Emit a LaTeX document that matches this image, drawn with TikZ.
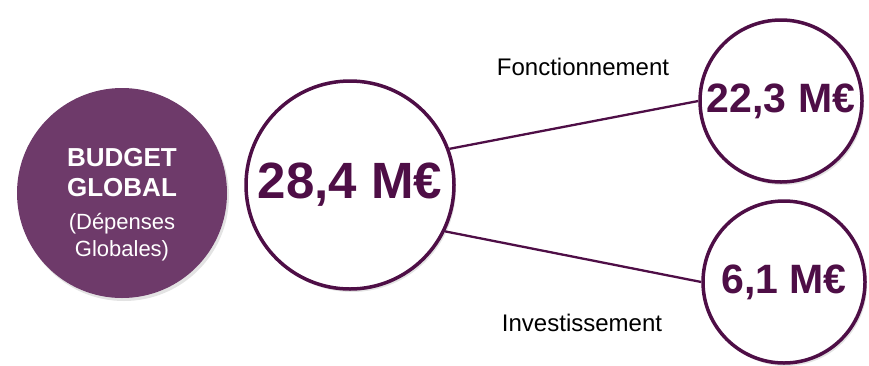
\documentclass[tikz,border=0pt]{standalone}
\usepackage{fontspec}
\setmainfont{Liberation Sans}
\usetikzlibrary{shadows}
\definecolor{plum}{RGB}{110,58,106}
\definecolor{darkplum}{RGB}{78,14,70}

\begin{document}
\begin{tikzpicture}[x=1pt,y=-1pt,
    amount/.style={circle,draw=darkplum,line width=3.5pt,fill=white,inner sep=0pt,
        text=darkplum,drop shadow={opacity=0.22,shadow xshift=2pt,shadow yshift=-3pt}},
    branch/.style={darkplum,line width=2.3pt}]
    \useasboundingbox (0,0) rectangle (869,365);
    \node[circle,fill=plum,minimum size=210pt,inner sep=0pt,
        drop shadow={opacity=0.22,shadow xshift=2pt,shadow yshift=-3pt}] (budget) at (122,193) {};
    \node[text=white,align=center,font=\fontsize{22}{30}\selectfont] (budgettxt) at (122,205)
        {\fontsize{26}{30}\selectfont\bfseries BUDGET\\
         \fontsize{26}{30}\selectfont\bfseries GLOBAL\\[3pt]
         (Dépenses\\[-3pt]
         Globales)};
    \node[amount,minimum size=208pt,font=\fontsize{51}{51}\selectfont\bfseries] (total) at (350,185) {28,4 M€};
    \node[amount,minimum size=162pt,font=\fontsize{41}{41}\selectfont\bfseries] (fonct) at (781,101) {22,3 M€};
    \node[amount,minimum size=162pt,font=\fontsize{41}{41}\selectfont\bfseries] (invest) at (784,282) {6,1 M€};
    \draw[branch] (total.20) -- (fonct.west);
    \draw[branch] (total.-26) -- (invest.west);
    \node[font=\fontsize{24}{24}\selectfont] (fonctlbl) at (583,67) {Fonctionnement};
    \node[font=\fontsize{24}{24}\selectfont] (investlbl) at (582,323) {Investissement};
\end{tikzpicture}
\end{document}
